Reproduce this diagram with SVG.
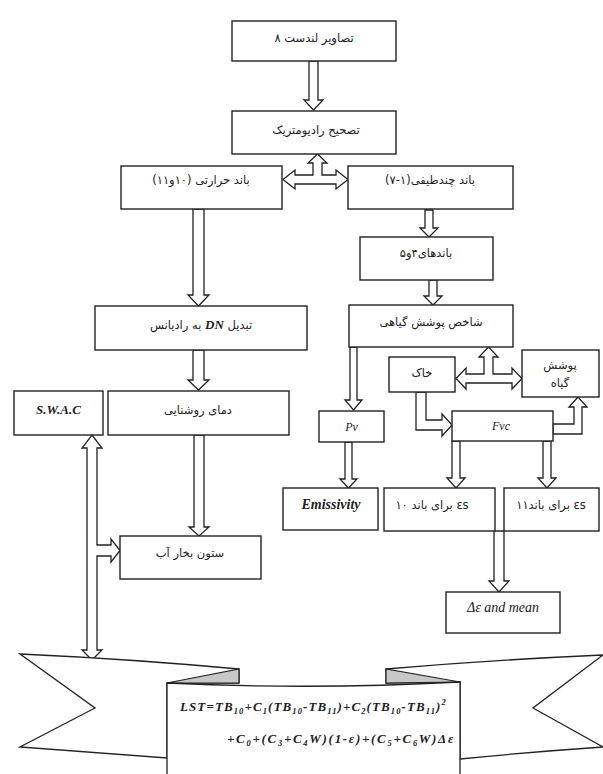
<svg xmlns="http://www.w3.org/2000/svg" width="603" height="774" viewBox="0 0 603 774">
<style>
.box{fill:#fff;stroke:#222;stroke-width:1.4}
.arr{fill:#fff;stroke:#222;stroke-width:1.3;stroke-linejoin:miter}
.fa{font-family:"DejaVu Sans","Noto Sans",sans-serif;font-size:11.5px;fill:#222;direction:rtl;text-anchor:middle}
.la{font-family:"Liberation Serif","Times New Roman",serif;font-style:italic;fill:#222;text-anchor:middle}
.fold{fill:#c8c8c8;stroke:#222;stroke-width:1.2}
.wing{fill:#fff;stroke:#222;stroke-width:1.3;stroke-linejoin:miter}
.fm{font-family:"Liberation Serif","Times New Roman",serif;font-style:italic;font-weight:bold;font-size:13px;fill:#222}
</style>
<rect width="603" height="774" fill="#fff"/>

<g id="connectors">
  <polygon class="arr" points="309,61 318,61 318,100 323,100 313.5,110 304,100 309,100"/>
  <polygon class="arr" points="283,179.5 295,170 295,175 313,175 313,163 308,163 317.5,154 327,163 322,163 322,175 336,175 336,170 348,179.5 336,189 336,184 295,184 295,189"/>
  <polygon class="arr" points="193,209 204,209 204,295 209,295 198.5,306 188,295 193,295"/>
  <polygon class="arr" points="425,210 433,210 433,228 438,228 429,237 420,228 425,228"/>
  <polygon class="arr" points="429,280 437,280 437,296 442,296 433,305 424,296 429,296"/>
  <polygon class="arr" points="350,347 357,347 357,400 362,400 353.5,410 345,400 350,400"/>
  <polygon class="arr" points="345,442 352,442 352,479 357,479 348.5,488 340,479 345,479"/>
  <polygon class="arr" points="456,378.5 466,368 466,374 484,374 484,357 479,357 488.5,347 498,357 493,357 493,374 512,374 512,368 522,378.5 512,389 512,383 466,383 466,389"/>
  <polygon class="arr" points="416,392 416,430 442,430 442,436 452,425 442,414 442,420 426,420 426,392"/>
  <polygon class="arr" points="553,424 574,424 574,407 569,407 578,397 587,407 582,407 582,434 553,434"/>
  <polygon class="arr" points="452,441 460,441 460,478 465,478 456,488 447,478 452,478"/>
  <polygon class="arr" points="543,441 551,441 551,478 556,478 547,488 538,478 543,478"/>
  <polygon class="arr" points="494,531 504,531 504,581 509,581 499,592 489,581 494,581"/>
  <polygon class="arr" points="193,350 204,350 204,380 209,380 198.5,390 188,380 193,380"/>
  <polygon class="arr" points="194,435 204,435 204,527 209,527 199,536 189,527 194,527"/>
  <polygon class="arr" points="92,435 102,448 97,448 97,545 111,545 111,539 120,550.5 111,562 111,556 97,556 97,650 102,650 92,660 82,650 87,650 87,448 82,448"/>
</g>

<g id="n-landsat"><rect class="box" x="232" y="21" width="164" height="40"/><text class="fa" x="314" y="42">تصاویر لندست ۸</text></g>
<g id="n-radiometric"><rect class="box" x="232" y="111" width="164" height="43"/><text class="fa" x="316" y="134">تصحیح رادیومتریک</text></g>
<g id="n-thermal"><rect class="box" x="121" y="166" width="161" height="43"/><text class="fa" x="201" y="184">باند حرارتی (۱۰و۱۱)</text></g>
<g id="n-multispectral"><rect class="box" x="348" y="166" width="165" height="43"/><text class="fa" x="430" y="184">باند چندطیفی(۱-۷)</text></g>
<g id="n-bands45"><rect class="box" x="360" y="237" width="133" height="43"/><text class="fa" x="426" y="257">باندهای۴و۵</text></g>
<g id="n-ndvi"><rect class="box" x="349" y="305" width="164" height="42"/><text class="fa" x="431" y="326">شاخص پوشش گیاهی</text></g>
<g id="n-dn"><rect class="box" x="95" y="306" width="212" height="44"/><text class="fa" x="201" y="329">تبدیل <tspan style="font-family:'Liberation Serif',serif;font-style:italic;font-weight:bold;font-size:13px">DN</tspan> به رادیانس</text></g>
<g id="n-swac"><rect class="box" x="14" y="391" width="89" height="44"/><text class="la" x="58.5" y="414" font-size="13" font-weight="bold">S.W.A.C</text></g>
<g id="n-bt"><rect class="box" x="108" y="391" width="181" height="44"/><text class="fa" x="198" y="414">دمای روشنایی</text></g>
<g id="n-pv"><rect class="box" x="319" y="411" width="65" height="31"/><text class="la" x="351.5" y="431" font-size="12">Pv</text></g>
<g id="n-soil"><rect class="box" x="389" y="357" width="66" height="35"/><text class="fa" x="422" y="377">خاک</text></g>
<g id="n-veg"><rect class="box" x="522" y="350" width="77" height="47"/><text class="fa" x="560" y="369">پوشش</text><text class="fa" x="560" y="387">گیاه</text></g>
<g id="n-fvc"><rect class="box" x="452" y="411" width="101" height="30"/><text class="la" x="501" y="430" font-size="12">Fvc</text></g>
<g id="n-emis"><rect class="box" x="283" y="488" width="95" height="42"/><text class="la" x="331" y="509" font-size="14" font-weight="bold">Emissivity</text></g>
<g id="n-es10"><rect class="box" x="384" y="488" width="111" height="43"/><text class="fa" x="432" y="509">εs برای باند ۱۰</text></g>
<g id="n-es11"><rect class="box" x="504" y="488" width="95" height="43"/><text class="fa" x="551" y="509">εs برای باند۱۱</text></g>
<g id="n-wv"><rect class="box" x="120" y="536" width="141" height="43"/><text class="fa" x="190" y="557">ستون بخار آب</text></g>
<g id="n-de"><rect class="box" x="446" y="592" width="114" height="41"/><text class="la" x="503" y="612" font-size="14">Δε and mean</text></g>

<g id="n-lst">
  <path class="wing" d="M20,654 Q130,659 239,669 L239,683 L167,683 L167,758 Q90,752 20,747 L95,708 Z"/>
  <polygon class="fold" points="167,683 239,669 239,683"/>
  <path class="wing" d="M603,655 Q490,660 386,669 L386,683 L460,682 L460,759 Q530,752 603,747 L533,708 Z"/>
  <polygon class="fold" points="460,682 386,669 386,683"/>
  <path class="wing" d="M167,683 Q313,690 460,682 L460,780 L167,780 Z"/>
  <text class="fm" x="180" y="711" letter-spacing="1.1">LST=TB<tspan font-size="8.5" dy="3">10</tspan><tspan dy="-3">+C</tspan><tspan font-size="8.5" dy="3">1</tspan><tspan dy="-3">(TB</tspan><tspan font-size="8.5" dy="3">10</tspan><tspan dy="-3">-TB</tspan><tspan font-size="8.5" dy="3">11</tspan><tspan dy="-3">)+C</tspan><tspan font-size="8.5" dy="3">2</tspan><tspan dy="-3">(TB</tspan><tspan font-size="8.5" dy="3">10</tspan><tspan dy="-3">-TB</tspan><tspan font-size="8.5" dy="3">11</tspan><tspan dy="-3">)</tspan><tspan font-size="8.5" dy="-6">2</tspan></text>
  <text class="fm" x="455" y="743" text-anchor="end" letter-spacing="1.7">+C<tspan font-size="8.5" dy="3">0</tspan><tspan dy="-3">+(C</tspan><tspan font-size="8.5" dy="3">3</tspan><tspan dy="-3">+C</tspan><tspan font-size="8.5" dy="3">4</tspan><tspan dy="-3">W)(1-ε)+(C</tspan><tspan font-size="8.5" dy="3">5</tspan><tspan dy="-3">+C</tspan><tspan font-size="8.5" dy="3">6</tspan><tspan dy="-3">W)Δε</tspan></text>
</g>
</svg>
